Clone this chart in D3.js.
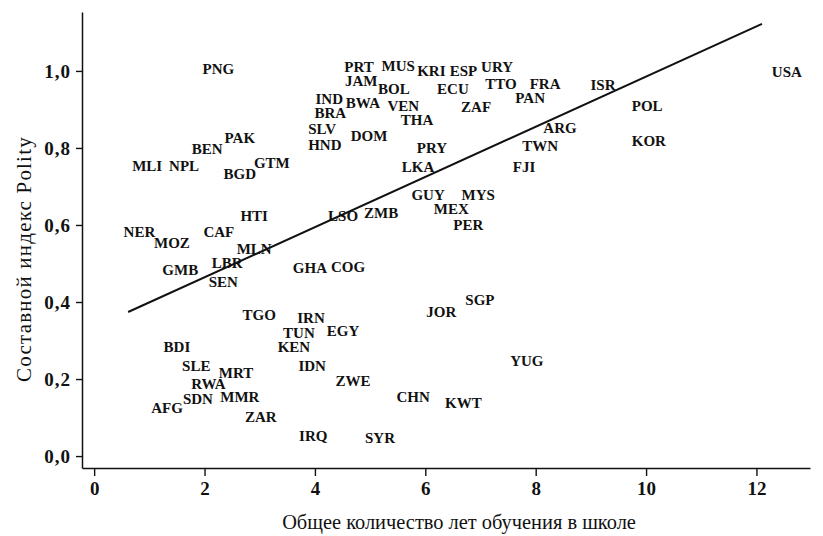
<!DOCTYPE html>
<html><head><meta charset="utf-8">
<script src="https://cdn.jsdelivr.net/npm/d3@7"></script>
<style>body{margin:0;background:#fff}svg{display:block}</style>
</head><body>
<script>
const countries = ["PNG","PRT","MUS","KRI","ESP","URY","JAM","BOL","ECU","TTO","FRA","ISR","USA","IND","BWA","VEN","PAN","POL","BRA","ZAF","THA","SLV","ARG","PAK","DOM","HND","BEN","PRY","TWN","KOR","MLI","NPL","GTM","BGD","LKA","FJI","GUY","MYS","MEX","HTI","LSO","ZMB","PER","NER","CAF","MOZ","MLN","GMB","LBR","GHA","COG","SEN","SGP","JOR","TGO","IRN","TUN","EGY","BDI","KEN","YUG","IDN","SLE","MRT","ZWE","RWA","CHN","SDN","MMR","KWT","AFG","ZAR","IRQ","SYR"];
const schooling = [2.25,4.80,5.51,6.11,6.69,7.30,4.84,5.43,6.50,7.37,8.17,9.22,12.55,4.26,4.87,5.60,7.90,10.02,4.28,6.92,5.85,4.13,8.44,2.64,4.98,4.18,2.05,6.12,8.08,10.05,0.96,1.63,3.22,2.64,5.87,7.79,6.05,6.96,6.47,2.90,4.51,5.20,6.78,0.82,2.26,1.41,2.90,1.56,2.41,3.91,4.60,2.34,6.99,6.29,2.99,3.93,3.71,4.51,1.50,3.62,7.84,3.95,1.85,2.57,4.69,2.07,5.78,1.88,2.64,6.69,1.32,3.02,3.97,5.18];
const polity = [1.005,1.010,1.013,1.000,1.000,1.010,0.974,0.954,0.953,0.968,0.968,0.964,0.999,0.927,0.917,0.909,0.930,0.909,0.891,0.906,0.873,0.849,0.852,0.826,0.831,0.808,0.797,0.800,0.805,0.818,0.753,0.755,0.761,0.732,0.751,0.751,0.678,0.678,0.642,0.623,0.623,0.631,0.600,0.582,0.582,0.553,0.538,0.483,0.501,0.488,0.491,0.452,0.405,0.374,0.366,0.358,0.319,0.325,0.283,0.283,0.247,0.234,0.234,0.216,0.195,0.187,0.153,0.150,0.153,0.138,0.125,0.101,0.052,0.047];
const fitX = [0.616, 12.10];
const fitY = [0.374, 1.122];
const xTicks = [0,2,4,6,8,10,12];
const yTicks = [0,0.2,0.4,0.6,0.8,1.0];
const xTitle = "Общее количество лет обучения в школе";
const yTitle = "Составной индекс Polity";

const W = 823, H = 536;
const svg = d3.select("body").append("svg").attr("width", W).attr("height", H);
const x = d3.scaleLinear().domain([-0.22, 12.97]).range([82, 810]);
const y = d3.scaleLinear().domain([-0.031, 1.153]).range([468, 12]);
const serif = "'Liberation Serif','DejaVu Serif',serif";

const fmt = v => d3.format(".1f")(v).replace(".", ",");

const gx = svg.append("g").attr("transform", "translate(0,468)")
  .call(d3.axisBottom(x).tickValues(xTicks).tickSize(8).tickSizeOuter(0).tickPadding(6).tickFormat(d3.format("d")));
const gy = svg.append("g").attr("transform", "translate(82,0)")
  .call(d3.axisLeft(y).tickValues(yTicks).tickSize(6).tickSizeOuter(0).tickPadding(5).tickFormat(fmt));
[gx, gy].forEach(g => {
  g.selectAll("path.domain").attr("stroke", "#111").attr("stroke-width", 1.5);
  g.selectAll(".tick line").attr("stroke", "#111").attr("stroke-width", 1.4);
  g.selectAll(".tick text").attr("fill", "#111").style("font-family", serif)
    .style("font-size", "19px").style("font-weight", "bold");
});
gy.selectAll(".tick text").attr("dy", "0.35em").style("letter-spacing", "1px");

svg.append("text").attr("x", 459).attr("y", 529).attr("text-anchor", "middle")
  .style("font-family", serif).style("font-size", "20.4px").attr("fill", "#111").text(xTitle);
svg.append("text").attr("transform", "translate(31,259) rotate(-90)").attr("text-anchor", "middle")
  .style("font-family", serif).style("font-size", "21px").style("letter-spacing", "1.2px")
  .attr("fill", "#111").text(yTitle);

svg.append("line")
  .attr("x1", x(fitX[0])).attr("y1", y(fitY[0]))
  .attr("x2", x(fitX[1])).attr("y2", y(fitY[1]))
  .attr("stroke", "#111").attr("stroke-width", 2);

svg.append("g").selectAll("text").data(countries).join("text")
  .attr("x", (d, i) => x(schooling[i]))
  .attr("y", (d, i) => y(polity[i]))
  .attr("dy", "0.35em")
  .attr("text-anchor", "middle")
  .style("font-family", serif).style("font-size", "15px").style("font-weight", "bold")
  .attr("fill", "#111")
  .text(d => d);
</script>
</body></html>
